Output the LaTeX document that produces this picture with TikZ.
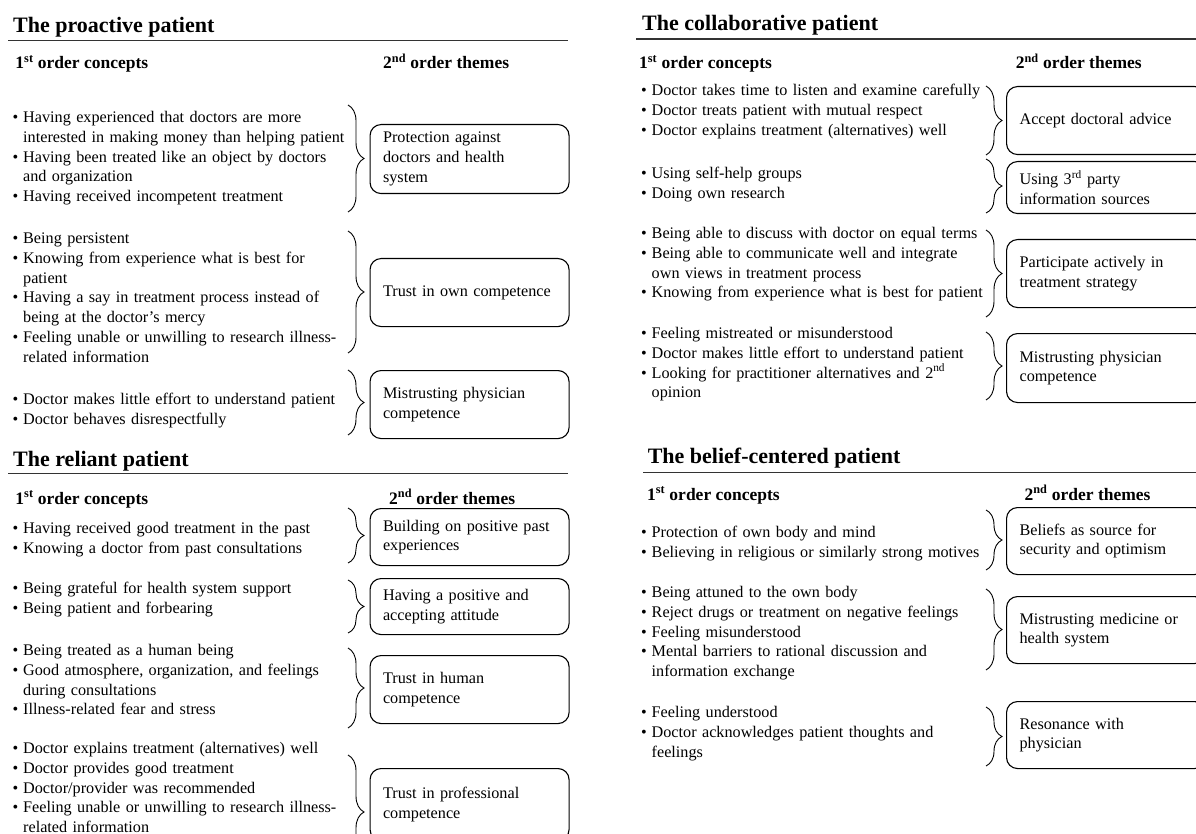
\documentclass[tikz,border=0pt]{standalone}
\usepackage{fontspec}
\setmainfont{Liberation Serif}
\usetikzlibrary{decorations.pathreplacing}

\newcommand\nohyph{\hyphenpenalty=10000\relax}
\tikzset{
  ptitle/.style={anchor=base west, inner sep=0pt, font=\fontsize{22}{26}\selectfont\bfseries},
  colhead/.style={anchor=base west, inner sep=0pt, font=\fontsize{17.5}{21}\selectfont\bfseries},
  concepts/.style={anchor=base west, inner sep=0pt, text width=345pt, align=left,
    font=\fontsize{16.2}{19.8}\selectfont\nohyph},
  theme/.style={draw, line width=1.1pt, rounded corners=11pt, anchor=north west,
    inner xsep=13pt, inner ysep=0pt, text width=173pt, align=left,
    font=\fontsize{16.2}{19.8}\selectfont\nohyph},
  rulerline/.style={line width=1.3pt, black!80},
  brc/.style={decorate, decoration={brace, amplitude=16pt}, line width=0.9pt},
}
\newcommand\bul{\makebox[0pt][r]{•\hspace{5pt}}}

\begin{document}
\begin{tikzpicture}[x=1pt, y=-1pt]
\useasboundingbox (0,0) rectangle (1196,834);
\clip (0,0) rectangle (1196,834);

% ---------------- The proactive patient ----------------
\node[ptitle] (tp) at (13,33) {The proactive patient};
\coordinate (rpA) at (8.4,40.7);
\coordinate (rpB) at (567.5,40.7);
\draw[rulerline] (rpA) -- (rpB);
\node[colhead] (hpa) at (15.3,69) {1\textsuperscript{st} order concepts};
\node[colhead] (hpb) at (383,69) {2\textsuperscript{nd} order themes};

\node[concepts] (p1) at (23,122.5) {\bul Having experienced that doctors are more\\
interested in making money than helping patient\\
\bul Having been treated like an object by doctors\\
and organization\\
\bul Having received incompetent treatment};
\draw[brc] (348,105) -- (348,212);
\node[theme, minimum height=69pt] (pt1) at (369.5,124) {Protection against\\doctors and health\\system};

\node[concepts] (p2) at (23,243.5) {\bul Being persistent\\
\bul Knowing from experience what is best for\\
patient\\
\bul Having a say in treatment process instead of\\
being at the doctor’s mercy\\
\bul Feeling unable or unwilling to research illness-\\
related information};
\draw[brc] (348,231) -- (348,353);
\node[theme, minimum height=68pt] (pt2) at (369.5,258) {Trust in own competence};

\node[concepts] (p3) at (23,404.5) {\bul Doctor makes little effort to understand patient\\
\bul Doctor behaves disrespectfully};
\draw[brc] (348,370) -- (348,435);
\node[theme, minimum height=68pt] (pt3) at (369.5,370) {Mistrusting physician\\competence};

% ---------------- The reliant patient ----------------
\node[ptitle] (tr) at (13,466) {The reliant patient};
\coordinate (rrA) at (8.4,473.3);
\coordinate (rrB) at (567.5,473.3);
\draw[rulerline] (rrA) -- (rrB);
\node[colhead] (hra) at (15.3,504) {1\textsuperscript{st} order concepts};
\node[colhead] (hrb) at (389,504) {2\textsuperscript{nd} order themes};

\node[concepts] (r1) at (23,533.5) {\bul Having received good treatment in the past\\
\bul Knowing a doctor from past consultations};
\draw[brc] (348,508) -- (348,563);
\node[theme, minimum height=57pt] (rt1) at (369.5,508) {Building on positive past\\experiences};

\node[concepts] (r2) at (23,593.5) {\bul Being grateful for health system support\\
\bul Being patient and forbearing};
\draw[brc] (348,580) -- (348,633);
\node[theme, minimum height=56pt] (rt2) at (369.5,578) {Having a positive and\\accepting attitude};

\node[concepts] (r3) at (23,655.5) {\bul Being treated as a human being\\
\bul Good atmosphere, organization, and feelings\\
during consultations\\
\bul Illness-related fear and stress};
\draw[brc] (348,648) -- (348,728);
\node[theme, minimum height=68pt] (rt3) at (369.5,655) {Trust in human\\competence};

\node[concepts] (r4) at (23,753.5) {\bul Doctor explains treatment (alternatives) well\\
\bul Doctor provides good treatment\\
\bul Doctor/provider was recommended\\
\bul Feeling unable or unwilling to research illness-\\
related information};
\draw[brc] (348,755) -- (348,869);
\node[theme, minimum height=72pt] (rt4) at (369.5,768) {Trust in professional\\competence};

% ---------------- The collaborative patient ----------------
\node[ptitle] (tc) at (642,30.5) {The collaborative patient};
\coordinate (rcA) at (636,39);
\coordinate (rcB) at (1196,39);
\draw[rulerline] (rcA) -- (rcB);
\node[colhead] (hca) at (639,69) {1\textsuperscript{st} order concepts};
\node[colhead] (hcb) at (1015.6,69) {2\textsuperscript{nd} order themes};

\node[concepts] (c1) at (651.5,95.5) {\bul Doctor takes time to listen and examine carefully\\
\bul Doctor treats patient with mutual respect\\
\bul Doctor explains treatment (alternatives) well};
\draw[brc] (986,86) -- (986,155);
\node[theme, minimum height=68pt] (ct1) at (1006,86) {Accept doctoral advice};

\node[concepts] (c2) at (651.5,178.5) {\bul Using self-help groups\\
\bul Doing own research};
\draw[brc] (986,159) -- (986,213);
\node[theme, minimum height=52pt] (ct2) at (1006,161) {Using 3\textsuperscript{rd} party\\information sources};

\node[concepts] (c3) at (651.5,238.5) {\bul Being able to discuss with doctor on equal terms\\
\bul Being able to communicate well and integrate\\
own views in treatment process\\
\bul Knowing from experience what is best for patient};
\draw[brc] (986,230) -- (986,317);
\node[theme, minimum height=68pt] (ct3) at (1006,239) {Participate actively in\\treatment strategy};

\node[concepts] (c4) at (651.5,338.5) {\bul Feeling mistreated or misunderstood\\
\bul Doctor makes little effort to understand patient\\
\bul Looking for practitioner alternatives and 2\textsuperscript{nd}\\
opinion};
\draw[brc] (986,332) -- (986,400);
\node[theme, minimum height=69pt] (ct4) at (1006,333) {Mistrusting physician\\competence};

% ---------------- The belief-centered patient ----------------
\node[ptitle] (tb) at (647.6,463) {The belief-centered patient};
\coordinate (rbA) at (643,472.3);
\coordinate (rbB) at (1196,472.3);
\draw[rulerline] (rbA) -- (rbB);
\node[colhead] (hba) at (646.8,500) {1\textsuperscript{st} order concepts};
\node[colhead] (hbb) at (1024.4,500) {2\textsuperscript{nd} order themes};

\node[concepts] (b1) at (651.5,537.5) {\bul Protection of own body and mind\\
\bul Believing in religious or similarly strong motives};
\draw[brc] (986,510) -- (986,570);
\node[theme, minimum height=67pt] (bt1) at (1006,507) {Beliefs as source for\\security and optimism};

\node[concepts] (b2) at (651.5,597.5) {\bul Being attuned to the own body\\
\bul Reject drugs or treatment on negative feelings\\
\bul Feeling misunderstood\\
\bul Mental barriers to rational discussion and\\
information exchange};
\draw[brc] (986,589) -- (986,670);
\node[theme, minimum height=67pt] (bt2) at (1006,596) {Mistrusting medicine or\\health system};

\node[concepts] (b3) at (651.5,717.5) {\bul Feeling understood\\
\bul Doctor acknowledges patient thoughts and\\
feelings};
\draw[brc] (986,707) -- (986,766);
\node[theme, minimum height=67pt] (bt3) at (1006,701) {Resonance with\\physician};

\end{tikzpicture}
\end{document}
